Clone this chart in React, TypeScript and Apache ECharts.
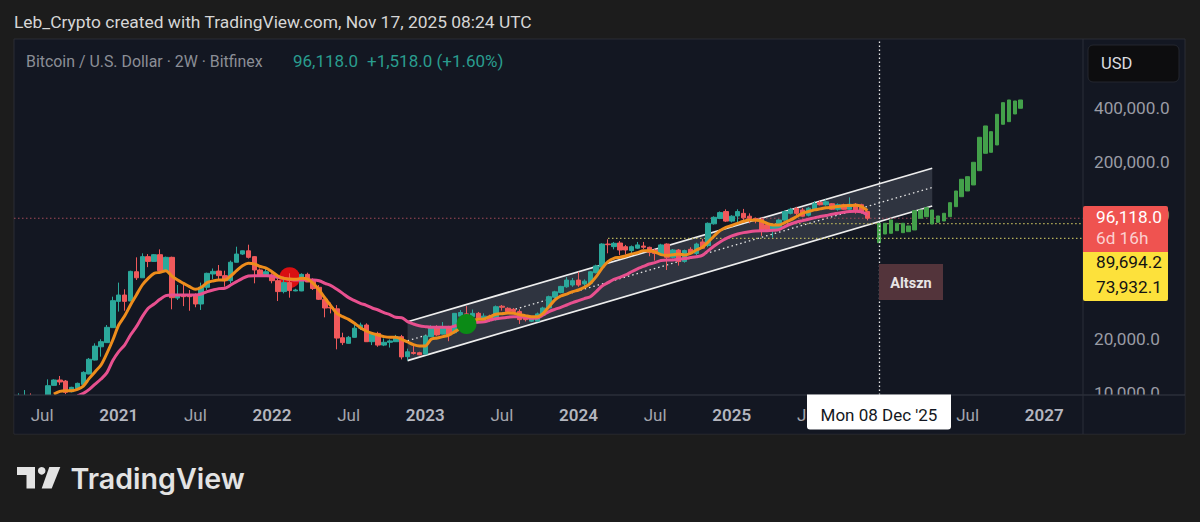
import React, { useEffect, useRef } from "react";
import * as echarts from "echarts";

const BAR_COUNT = 181;
const FIRST_BAR = Date.UTC(2020, 4, 4);
const TWO_WEEKS = 14 * 86400000;
const categories: string[] = Array.from({ length: BAR_COUNT }, (_, i) =>
  new Date(FIRST_BAR + i * TWO_WEEKS).toISOString().slice(0, 10)
);

const tickIndexes = [4, 17, 30, 43, 56, 69, 82, 95, 108, 121, 134, 161, 174];
const tickLabels = ["Jul", "2021", "Jul", "2022", "Jul", "2023", "Jul", "2024", "Jul", "2025", "Jul", "Jul", "2027"];
const priceTicks = [10000, 20000, 100000, 200000, 400000];

// [open, close, low, high]
const btcCandles: number[][] = [
  [9300, 9500, 9100, 9920], [9200, 9400, 9000, 10350], [9400, 9200, 9000, 9910], [9200, 9100, 8900, 9500], [9100, 9200, 8900, 9400],
  [9200, 10950, 9100, 11890], [11000, 11790, 10950, 11890], [11790, 11490, 11060, 12420], [11630, 10050, 9820, 11790], [10130, 10720, 10050, 10800],
  [10570, 11290, 10500, 11400], [11140, 13020, 11100, 13200], [12750, 15430, 12700, 15690], [15280, 18300, 15200, 18970], [18140, 19380, 15960, 20000],
  [19150, 23350, 19100, 24060], [23260, 33000, 23200, 34750], [32700, 35500, 28640, 41700], [35500, 32700, 28960, 38230], [32840, 48240, 32800, 48680],
  [48020, 44400, 43140, 57880], [44400, 58400, 44300, 60980], [58400, 54900, 50970, 60400], [54900, 59900, 54800, 60400], [59900, 48680, 48020, 64200],
  [48680, 57880, 48600, 58400], [57880, 34300, 29500, 58400], [34150, 35500, 33280, 40430], [35500, 34750, 30750, 40790], [35500, 34750, 28950, 37900],
  [35500, 31600, 30300, 36280], [31600, 39250, 29240, 41700], [39250, 47040, 37900, 47440], [46640, 48240, 43650, 50100], [48440, 45650, 43140, 52400],
  [45650, 42760, 39590, 48680], [42760, 54300, 41320, 55500], [54300, 60400, 54200, 66450], [60400, 63000, 59680, 63200], [62980, 57880, 57000, 68200],
  [58400, 49120, 41320, 58890], [49120, 46050, 45050, 50100], [46050, 48020, 45900, 50100], [46050, 42760, 41320, 47040], [42760, 37110, 32840, 44080],
  [37110, 41700, 36280, 45050], [41700, 37600, 34300, 47040], [37440, 37900, 37300, 38500], [37440, 46420, 37300, 47040], [46420, 42040, 42000, 47440],
  [42400, 38640, 37900, 44080], [39250, 33600, 33280, 40430], [33600, 30000, 26580, 34050], [30250, 30000, 27990, 32160], [29680, 20310, 17550, 31140],
  [20400, 19150, 18550, 21770], [18970, 20510, 18900, 20880], [20510, 23090, 20400, 24590], [23090, 24060, 22560, 24800], [24060, 19380, 19380, 24590],
  [19380, 21580, 18550, 21770], [21580, 18550, 18140, 22040], [18550, 19230, 18300, 20210], [19230, 19570, 17960, 19970], [19380, 20690, 19300, 21170],
  [20690, 15900, 15400, 21170], [15960, 17000, 15200, 17700], [16850, 16650, 16400, 18550], [16800, 16350, 16250, 17000], [16500, 20880, 16450, 21000],
  [20690, 23600, 20600, 24000], [23600, 21170, 20900, 24000], [21400, 23350, 21300, 25000], [23600, 21170, 19500, 23800], [21770, 27990, 21600, 28100],
  [27000, 28300, 26500, 29200], [27800, 26810, 26400, 30750], [26810, 27990, 26500, 29400], [28000, 26300, 25800, 28500], [26300, 27000, 26000, 28000],
  [27000, 25800, 25000, 27500], [25800, 30500, 25500, 31000], [30700, 30300, 29000, 31200], [29900, 28600, 28400, 30300], [29500, 28640, 28400, 30000],
  [28640, 25800, 24400, 29500], [26900, 25800, 25200, 27300], [25300, 26000, 25000, 27000], [25300, 27800, 25100, 28300], [27400, 30000, 27200, 30500],
  [30000, 34750, 29800, 35200], [34500, 37000, 34000, 37500], [36700, 39700, 36300, 40000], [39500, 43100, 39000, 44800], [40430, 42760, 39500, 44300],
  [43100, 40430, 39500, 48000], [41000, 42500, 39000, 43500], [41320, 48000, 41000, 48500], [47440, 51800, 47000, 52600], [51000, 68800, 50900, 69500],
  [68800, 68200, 60980, 73160], [66500, 69410, 64200, 70660], [69700, 63660, 59680, 71500], [66450, 63660, 60000, 68000], [63200, 66450, 60000, 67500],
  [65200, 68000, 64500, 70660], [67000, 66000, 64500, 70660], [65900, 61600, 58700, 66500], [63660, 60900, 55500, 64500], [60400, 68000, 59500, 69000],
  [68800, 57880, 49120, 69400], [57880, 63660, 57000, 64500], [63660, 54900, 52000, 64500], [54900, 63200, 54000, 64000], [64200, 60900, 60000, 66000],
  [60900, 68800, 59500, 70000], [70660, 65200, 64500, 73500], [67500, 90000, 66000, 91000], [89400, 97300, 88500, 98500], [95900, 103400, 95000, 105000],
  [104800, 92600, 91500, 107900], [92600, 98700, 91000, 100000], [99000, 104800, 90900, 108000], [102400, 96600, 93000, 108500], [98700, 95900, 90000, 102400],
  [95900, 93400, 90000, 97000], [94900, 81100, 76500, 97000], [88200, 83100, 81000, 89000], [83100, 88000, 74700, 89000], [83100, 93900, 82500, 95000],
  [93900, 104800, 93000, 106000], [102400, 108000, 101000, 110000], [109000, 102400, 100000, 111500], [107000, 98700, 98000, 110000], [100000, 109500, 98500, 111000],
  [108000, 116000, 107000, 120000], [118000, 114500, 113500, 121000], [114500, 119000, 113000, 122500], [116000, 108000, 107000, 117000], [108000, 114500, 106000, 116500],
  [114500, 108000, 107500, 116000], [108000, 115300, 107000, 126000], [115300, 107000, 102000, 117000], [114500, 104800, 102000, 116000], [104800, 96118, 93500, 106000],
];

const projectionStart = 146;
// [bottom, top] of each pasted projection bar
const projectionBars: number[][] = [
  [70000, 90030], [78370, 90030], [79090, 93970], [81800, 90030], [79700, 90030], [80750, 86940], [82550, 106020], [96060, 106980], [98080, 110200], [89220, 106980],
  [91210, 98980], [92760, 102500], [98080, 117600], [111700, 136900], [127100, 159300], [136900, 164750], [148000, 198600], [178100, 274700], [223200, 318200], [226100, 295400],
  [248600, 370200], [325200, 430400], [336400, 445700], [371700, 440000], [400200, 445700],
];

const orangeStart = 6;
const orangeMa = [
  9820, 10170, 10260, 10260, 10440, 10900, 12040, 13140, 14320, 16660, 19810, 24060, 27040, 31200, 35520, 40430, 44080, 47030, 47650, 48680,
  45450, 43100, 41320, 39570, 38230, 39250, 41680, 42600, 43100, 43100, 45450, 48680, 51860, 53560, 53100, 51420, 50320, 48040, 45450, 44080,
  43700, 43510, 44080, 43700, 41320, 37900, 34050, 30830, 28000, 26810, 25900, 24590, 23250, 22270, 21590, 21130, 20690, 20510, 20510, 19990,
  19300, 18640, 18330, 18330, 19990, 20330, 20690, 21130, 22070, 23050, 24380, 25350, 25900, 26010, 26810, 27640, 27880, 28120, 28000, 27520,
  27170, 26810, 26810, 28000, 30540, 33310, 35050, 35960, 37090, 37900, 39250, 41320, 45050, 50320, 54760, 57170, 57920, 58930, 60430, 61480,
  63110, 63110, 62010, 59920, 59400, 59920, 60430, 59660, 60980, 63660, 65900, 70660, 76370, 81840, 85470, 87530, 90000, 92400, 94040, 93630,
  92800, 90000, 87950, 87950, 90800, 94040, 98230, 102600, 104860, 107160, 108560, 109980, 110940, 111910, 112890, 113380, 113870, 111910, 106240,
];

const pinkStart = 10;
const pinkMa = [
  9580, 9910, 10440, 11190, 11940, 12970, 15170, 17030, 18550, 21130, 23550, 26810, 29880, 31600, 33600, 35200, 35520, 35520, 35520, 35520,
  35520, 35960, 37090, 37900, 38570, 38740, 40430, 42240, 44080, 45450, 45650, 45650, 45650, 45450, 44650, 44080, 43510, 43100, 43100, 43100,
  43100, 42760, 41320, 40080, 38230, 36280, 34320, 33020, 31880, 31080, 30000, 29240, 28240, 27520, 26580, 26470, 25120, 24380, 23850, 23550,
  23340, 23340, 23340, 23340, 23760, 24380, 24590, 24800, 24900, 25120, 25630, 26120, 26350, 26580, 26810, 26810, 26580, 26230, 26350, 27400,
  28640, 29490, 30270, 31200, 32170, 33020, 33890, 34750, 37090, 39910, 41680, 43510, 44650, 46050, 48040, 49900, 51420, 53100, 54030, 55500,
  55980, 55980, 56470, 56960, 57700, 58400, 59400, 63110, 67080, 70640, 73730, 76370, 78350, 79730, 80770, 81480, 81840, 81840, 82190, 82910,
  86200, 89180, 91500, 93200, 94870, 96560, 98230, 99540, 101300, 102600, 103950, 104860, 105340, 104400, 100400,
];

const channelIndexes = [66, 155];
const channelTop = [25120, 183700];
const channelMid = [19630, 143300];
const channelBottom = [15150, 112700];

const redMark = [46, 44450];
const greenMark = [76, 24380];

const lastPrice = 96118;
const priceLevelStarts = [-1, 127, 100];
const priceLevels = [lastPrice, 89694.2, 73932.1];
const priceLevelColors = ["#a34a58", "#b8b25a", "#b8b25a"];

const crosshairIndex = 146;

const FONT = "Roboto";
const gridLeft = 15.55;
const gridWidth = 1067;

function toLine(start: number, values: number[]) {
  return categories.map((_, i) => (i >= start && i - start < values.length ? values[i - start] : null));
}

const fmtPrice = (v: number) => v.toLocaleString("en-US", { minimumFractionDigits: 1, maximumFractionDigits: 1 });

const textEl = (text: string, x: number, y: number, size: number, fill: string, z: number, extra: any = {}) => ({
  type: "text",
  x,
  y,
  z,
  silent: true,
  style: { text, fill, font: `${extra.weight || 400} ${size}px ${extra.family || FONT}`, textVerticalAlign: "middle", textAlign: extra.align || "left" },
});

export default function App() {
  const ref = useRef<HTMLDivElement>(null);

  useEffect(() => {
    document.body.style.margin = "0";
    document.body.style.background = "#1c1c1c";
    const chart = echarts.init(ref.current!, undefined, { renderer: "svg" });

    const option: any = {
      animation: false,
      backgroundColor: "#1c1c1c",
      textStyle: { fontFamily: FONT },
      grid: { left: gridLeft, top: 39, width: gridWidth, height: 356 },
      xAxis: {
        type: "category",
        data: categories,
        z: 11,
        boundaryGap: true,
        axisLine: { show: false },
        axisTick: { show: false },
        splitLine: { show: false },
        axisLabel: {
          margin: 11,
          hideOverlap: false,
          interval: (i: number) => tickIndexes.includes(i),
          formatter: (_: string, i: number) => {
            const t = tickLabels[tickIndexes.indexOf(i)];
            return /^\d/.test(t) ? `{year|${t}}` : `{month|${t}}`;
          },
          rich: {
            year: { fontFamily: FONT, fontSize: 17, fontWeight: 600, color: "#b4b6bf" },
            month: { fontFamily: FONT, fontSize: 17, color: "#a3a5ad" },
          },
        },
      },
      yAxis: {
        type: "log",
        logBase: 10,
        min: 9706,
        max: 983000,
        position: "right",
        z: 1,
        axisLine: { show: false },
        axisTick: { show: false },
        splitLine: { show: false },
        minorTick: { show: false },
        axisLabel: {
          customValues: priceTicks,
          margin: 11.5,
          fontFamily: FONT,
          fontSize: 17.2,
          color: "#9a9ca5",
          align: "left",
          padding: [0, 0, 3, 0],
          formatter: (v: number) => fmtPrice(v),
        },
      },
      series: [
        {
          type: "custom",
          name: "channel",
          z: 3,
          silent: true,
          clip: false,
          data: channelIndexes.map((x, i) => [x, channelTop[i]]),
          encode: { x: 0, y: 1 },
          renderItem: (params: any, api: any) => {
            if (params.dataIndex !== 0) return null;
            const pt = (k: number, arr: number[]) => api.coord([channelIndexes[k], arr[k]]);
            const a = pt(0, channelTop), b = pt(1, channelTop), c = pt(1, channelBottom), d = pt(0, channelBottom);
            const m0 = pt(0, channelMid), m1 = pt(1, channelMid);
            return {
              type: "group",
              children: [
                { type: "polygon", shape: { points: [a, b, c, d] }, style: { fill: "rgba(190,195,215,0.17)" } },
                { type: "line", shape: { x1: m0[0], y1: m0[1], x2: m1[0], y2: m1[1] }, style: { stroke: "#e6e6e6", lineWidth: 1.3, lineDash: [1.5, 3] } },
                { type: "line", shape: { x1: a[0], y1: a[1], x2: b[0], y2: b[1] }, style: { stroke: "#eeeeee", lineWidth: 1.7 } },
                { type: "line", shape: { x1: d[0], y1: d[1], x2: c[0], y2: c[1] }, style: { stroke: "#eeeeee", lineWidth: 1.7 } },
              ],
            };
          },
        },
        {
          type: "custom",
          name: "levels",
          z: 3,
          silent: true,
          clip: false,
          data: priceLevels.map((v, i) => [Math.max(priceLevelStarts[i], 0), v]),
          encode: { x: 0, y: 1 },
          renderItem: (params: any, api: any) => {
            const i = params.dataIndex;
            const y = api.coord([0, priceLevels[i]])[1];
            const x1 = priceLevelStarts[i] < 0 ? 14 : api.coord([priceLevelStarts[i], priceLevels[i]])[0];
            return {
              type: "line",
              shape: { x1, y1: y, x2: params.coordSys.x + params.coordSys.width, y2: y },
              style: { stroke: priceLevelColors[i], lineWidth: 1.2, lineDash: [1.5, 2.5] },
            };
          },
        },
        {
          type: "scatter",
          name: "red mark",
          z: 3,
          silent: true,
          symbolSize: 21,
          itemStyle: { color: "#d90f12", opacity: 1 },
          data: [redMark],
        },
        {
          type: "candlestick",
          name: "BTCUSD",
          z: 4,
          silent: true,
          barWidth: 5,
          data: btcCandles,
          itemStyle: { color: "#2ba89b", color0: "#f0595b", borderColor: "#2ba89b", borderColor0: "#f0595b", borderWidth: 1 },
          markLine: {
            silent: true,
            symbol: "none",
            animation: false,
            label: { show: false },
            lineStyle: { color: "#e8e8e8", type: [1.5, 2.5], width: 1.3 },
            data: [{ xAxis: categories[crosshairIndex] }],
          },
        },
        {
          type: "candlestick",
          name: "Projection",
          z: 4,
          silent: true,
          barWidth: 4,
          data: categories.map((_, i) => {
            const b = projectionBars[i - projectionStart];
            return b ? [b[0], b[1], b[0], b[1]] : "-";
          }),
          itemStyle: { color: "#43a04a", color0: "#43a04a", borderColor: "#43a04a", borderColor0: "#43a04a", borderWidth: 1 },
        },
        {
          type: "line",
          name: "MA slow",
          z: 5,
          silent: true,
          symbol: "none",
          smooth: 0.3,
          lineStyle: { color: "#e8508f", width: 3 },
          data: toLine(pinkStart, pinkMa),
        },
        {
          type: "line",
          name: "MA fast",
          z: 6,
          silent: true,
          symbol: "none",
          smooth: 0.3,
          lineStyle: { color: "#ee8d1c", width: 3 },
          data: toLine(orangeStart, orangeMa),
        },
        {
          type: "scatter",
          name: "green mark",
          z: 7,
          silent: true,
          symbolSize: 20,
          itemStyle: { color: "#0b8a16", opacity: 1 },
          data: [greenMark],
        },
      ],
      graphic: {
        elements: [
          { type: "rect", z: -1, silent: true, shape: { x: 14, y: 39, width: 1171, height: 395 }, style: { fill: "#131722", stroke: "#2a2d35", lineWidth: 1 } },
          { type: "rect", z: 10, silent: true, shape: { x: 14.5, y: 395, width: 1170, height: 38.5 }, style: { fill: "#131722" } },
          { type: "line", z: 10, silent: true, shape: { x1: 14, y1: 395, x2: 1185, y2: 395 }, style: { stroke: "#363a45", lineWidth: 1 } },
          { type: "line", z: 10, silent: true, shape: { x1: 1083, y1: 39, x2: 1083, y2: 434 }, style: { stroke: "#2a2e39", lineWidth: 1 } },

          textEl("Leb_Crypto created with TradingView.com, Nov 17, 2025 08:24 UTC", 14, 22, 17.4, "#d6d6d6", 20),
          textEl("Bitcoin / U.S. Dollar · 2W · Bitfinex", 26, 61, 15.9, "#8b8e96", 20),
          textEl("96,118.0", 293, 61, 17, "#2a9d8f", 20),
          textEl("+1,518.0 (+1.60%)", 367, 61, 17, "#2a9d8f", 20),

          { type: "rect", z: 20, silent: true, shape: { x: 1088, y: 45, width: 91, height: 37, r: 5 }, style: { fill: "#0d0d0f", stroke: "#24272f", lineWidth: 1 } },
          textEl("USD", 1101, 63, 16.5, "#dcdde0", 21),

          { type: "rect", z: 20, silent: true, shape: { x: 1083, y: 206, width: 85, height: 46, r: [2, 2, 0, 0] }, style: { fill: "#ef5350" } },
          textEl(fmtPrice(lastPrice), 1096, 217, 17.2, "#ffffff", 21),
          textEl("6d 16h", 1096, 238, 17.2, "#fbd0cf", 21),
          { type: "rect", z: 20, silent: true, shape: { x: 1083, y: 252, width: 85, height: 49, r: [0, 0, 2, 2] }, style: { fill: "#fde13b" } },
          textEl(fmtPrice(priceLevels[1]), 1096, 262, 17.2, "#131313", 21),
          textEl(fmtPrice(priceLevels[2]), 1096, 287, 17.2, "#131313", 21),

          { type: "rect", z: 20, silent: true, shape: { x: 879, y: 264, width: 64, height: 36 }, style: { fill: "#53343b" } },
          textEl("Altszn", 911, 283, 14.5, "#e8e4e5", 21, { weight: 700, align: "center" }),

          { type: "rect", z: 30, silent: true, shape: { x: 807, y: 394.5, width: 144, height: 35, r: [0, 0, 3, 3] }, style: { fill: "#ffffff" } },
          textEl("Mon 08 Dec '25", 879, 415, 17, "#131722", 31, { align: "center" }),

          { type: "polygon", z: 20, silent: true, shape: { points: [[17, 467], [35, 467], [35, 488.5], [26.5, 488.5], [26.5, 475], [17, 475]] }, style: { fill: "#e3e3e3" } },
          { type: "circle", z: 20, silent: true, shape: { cx: 41.7, cy: 470.8, r: 3.8 }, style: { fill: "#e3e3e3" } },
          { type: "polygon", z: 20, silent: true, shape: { points: [[49.3, 467], [60.3, 467], [51.7, 488.5], [41.7, 488.5]] }, style: { fill: "#e3e3e3" } },
          textEl("TradingView", 70.5, 478, 28.6, "#e3e3e3", 20, { weight: 600, family: "Inter" }),
        ],
      },
    };

    chart.setOption(option);
    return () => chart.dispose();
  }, []);

  return <div ref={ref} style={{ position: "absolute", left: 0, top: 0, width: 1200, height: 522 }} />;
}
